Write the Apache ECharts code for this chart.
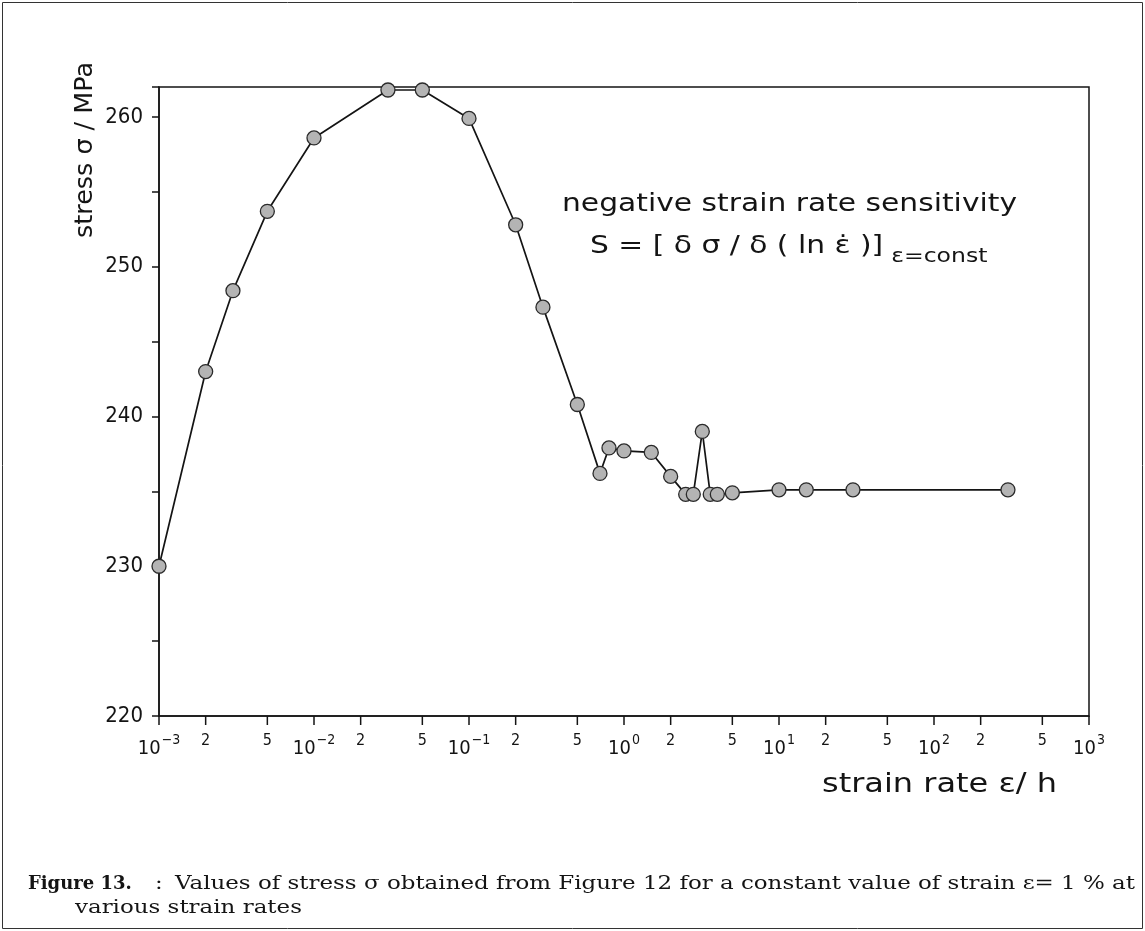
<!DOCTYPE html>
<html>
<head>
<meta charset="utf-8">
<script src="https://cdn.jsdelivr.net/npm/echarts@6/dist/echarts.min.js"></script>
<style>
html,body{margin:0;padding:0;background:#fff;}
#c{width:1145px;height:931px;}
</style>
</head>
<body>
<div id="c"></div>
<script>
// ---- data ----
const strainRates = [0.001, 0.002, 0.003, 0.005, 0.01, 0.03, 0.05, 0.1, 0.2, 0.3, 0.5, 0.7, 0.8, 1.0, 1.5, 2.0, 2.5, 2.8, 3.2, 3.6, 4.0, 5.0, 10, 15, 30, 300];
const stressValues = [230.0, 243.0, 248.4, 253.7, 258.6, 261.8, 261.8, 259.9, 252.8, 247.3, 240.8, 236.2, 237.9, 237.7, 237.6, 236.0, 234.8, 234.8, 239.0, 234.8, 234.8, 234.9, 235.1, 235.1, 235.1, 235.1];
const decadeExponents = [-3, -2, -1, 0, 1, 2, 3];
const minorTickRates = [0.002, 0.005, 0.02, 0.05, 0.2, 0.5, 2, 5, 20, 50, 200, 500];
const minorTickLabels = ['2', '5', '2', '5', '2', '5', '2', '5', '2', '5', '2', '5'];
const yMin = 220, yMax = 262, yStep = 5;

const yAxisTitle = 'stress σ / MPa';
const xAxisTitle = 'strain rate ε/ h';
const noteLine1 = 'negative strain rate sensitivity';
const noteLine2 = 'S = [ δ σ / δ ( ln ε̇ )]';
const noteSub = 'ε=const';
const captionHead = 'Figure 13.';
const captionColon = ':';
const captionLine1 = 'Values of stress σ obtained from Figure 12 for a constant value of strain ε= 1 % at';
const captionLine2 = 'various strain rates';

// ---- helpers ----
const mctx = document.createElement('canvas').getContext('2d');
function textWidth(t, font) { mctx.font = font; return mctx.measureText(t).width; }

const INK = '#141414';
const SANS = '"DejaVu Sans", sans-serif';
const SANSC = '"DejaVu Sans Condensed", "DejaVu Sans", sans-serif';
const SERIF = '"DejaVu Serif", serif';

const noteFont = '24px ' + SANS;
const noteScale = 455 / textWidth(noteLine1, noteFont);
const note2W = textWidth(noteLine2, noteFont) * noteScale;
const xTitleFont = '26px ' + SANS;
const xTitleScale = 235 / textWidth(xAxisTitle, xTitleFont);
const yTitleFont = '24px ' + SANS;
const yTitleScale = 176 / textWidth(yAxisTitle, yTitleFont);
const capFont = '18px ' + SERIF;
const capScale = 960 / textWidth(captionLine1, capFont);

const chart = echarts.init(document.getElementById('c'), null, {renderer: 'canvas'});

const option = {
  animation: false,
  backgroundColor: '#fff',
  grid: {
    left: 159, right: 56, top: 87, bottom: 215,
    show: true, borderColor: INK, borderWidth: 1.5,
    containLabel: false, outerBoundsMode: 'none'
  },
  xAxis: {
    type: 'value', min: -3, max: 3, interval: 1,
    axisLine: {show: true, onZero: false, lineStyle: {color: INK, width: 1.5}},
    axisTick: {show: true, inside: false, length: 9, lineStyle: {color: INK, width: 1.5}},
    splitLine: {show: false},
    axisLabel: {
      margin: 17,
      formatter: function (v) {
        const e = Math.round(v);
        if (decadeExponents.indexOf(e) < 0) return '';
        return '{b|10}{s|' + (e < 0 ? '−' + (-e) : e) + '}';
      },
      rich: {
        b: {fontSize: 20, fontFamily: SANSC, color: INK, lineHeight: 26, verticalAlign: 'bottom'},
        s: {fontSize: 14, fontFamily: SANSC, color: INK, lineHeight: 14, verticalAlign: 'top', padding: [0, 0, 0, 1]}
      }
    }
  },
  yAxis: {
    type: 'value', min: yMin, max: yMax, interval: yStep,
    axisLine: {show: true, onZero: false, lineStyle: {color: INK, width: 1.5}},
    axisTick: {show: true, inside: false, length: 7, lineStyle: {color: INK, width: 1.5}},
    splitLine: {show: false},
    axisLabel: {
      margin: 16, fontSize: 22, fontFamily: SANSC, color: INK,
      formatter: function (v) { return (Math.abs(v % 10) < 1e-9 && v <= 260) ? String(v) : ''; }
    }
  },
  series: [
    {
      type: 'line',
      data: strainRates.map((r, i) => [Math.log10(r), stressValues[i]]),
      symbol: 'circle', symbolSize: 14, showSymbol: true,
      clip: false,
      lineStyle: {color: INK, width: 1.7},
      itemStyle: {color: '#b4b4b4', borderColor: '#2a2a2a', borderWidth: 1.3},
      z: 4
    },
    {
      type: 'custom', silent: true, clip: false, z: 3,
      data: minorTickRates.map((r, i) => [Math.log10(r), yMin, i]),
      encode: {x: 0, y: 1},
      renderItem: function (params, api) {
        const p = api.coord([api.value(0), yMin]);
        return {
          type: 'group',
          children: [
            {type: 'line', shape: {x1: p[0], y1: p[1], x2: p[0], y2: p[1] + 9},
             style: {stroke: INK, lineWidth: 1.5}},
            {type: 'text', x: p[0], y: p[1] + 25,
             style: {text: minorTickLabels[api.value(2)], fontSize: 16, fontFamily: SANSC,
                     fill: INK, align: 'center', verticalAlign: 'middle'}}
          ]
        };
      }
    }
  ],
  graphic: [
    {type: 'rect', shape: {x: 2.5, y: 2.5, width: 1140, height: 926},
     style: {fill: 'none', stroke: '#333', lineWidth: 1}, silent: true},
    {type: 'text', x: 86, y: 150, rotation: Math.PI / 2, scaleX: yTitleScale,
     style: {text: yAxisTitle, font: yTitleFont, fill: INK, align: 'center', verticalAlign: 'middle'}},
    {type: 'text', x: 822, y: 785, scaleX: xTitleScale,
     style: {text: xAxisTitle, font: xTitleFont, fill: INK, align: 'left', verticalAlign: 'middle'}},
    {type: 'text', x: 562, y: 205, scaleX: noteScale,
     style: {text: noteLine1, font: noteFont, fill: INK, align: 'left', verticalAlign: 'middle'}},
    {type: 'text', x: 590, y: 247, scaleX: noteScale,
     style: {text: noteLine2, font: noteFont, fill: INK, align: 'left', verticalAlign: 'middle'}},
    {type: 'text', x: 590 + note2W + 8, y: 257, scaleX: noteScale,
     style: {text: noteSub, font: '19px ' + SANS, fill: INK, align: 'left', verticalAlign: 'middle'}},
    {type: 'text', x: 28, y: 884,
     style: {text: captionHead, font: 'bold 18px ' + SERIF, fill: INK, align: 'left', verticalAlign: 'middle'}},
    {type: 'text', x: 155, y: 884, scaleX: capScale,
     style: {text: captionColon, font: capFont, fill: INK, align: 'left', verticalAlign: 'middle'}},
    {type: 'text', x: 175, y: 884, scaleX: capScale,
     style: {text: captionLine1, font: capFont, fill: INK, align: 'left', verticalAlign: 'middle'}},
    {type: 'text', x: 75, y: 908, scaleX: capScale,
     style: {text: captionLine2, font: capFont, fill: INK, align: 'left', verticalAlign: 'middle'}}
  ]
};
chart.setOption(option);
</script>
</body>
</html>
